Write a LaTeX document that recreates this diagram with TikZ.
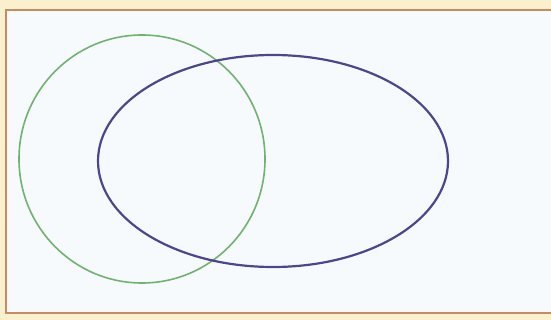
\documentclass[tikz,border=0pt]{standalone}
\usepackage{xcolor}
\usepackage{tikz}
\definecolor{VennFrame}{RGB}{196, 140, 96}
\definecolor{VennPaper}{RGB}{247, 250, 252}
\definecolor{VennMargin}{RGB}{250, 240, 205}
\definecolor{VennGreen}{RGB}{112, 178, 112}
\definecolor{VennBlue}{RGB}{78, 70, 140}

\begin{document}
\begin{tikzpicture}[x=1pt, y=-1pt]
    \useasboundingbox (0,0) rectangle (551,320);
    \fill[VennMargin] (0,0) rectangle (551,320);
    \draw[VennFrame, fill=VennPaper, line width=2pt] (6,10) rectangle (560,313);
    \draw[VennGreen, line width=1.6pt] (142,159) ellipse [x radius=123, y radius=124];
    \draw[VennBlue, line width=2.2pt] (273,161) ellipse [x radius=175, y radius=106];
  \end{tikzpicture}
\end{document}
